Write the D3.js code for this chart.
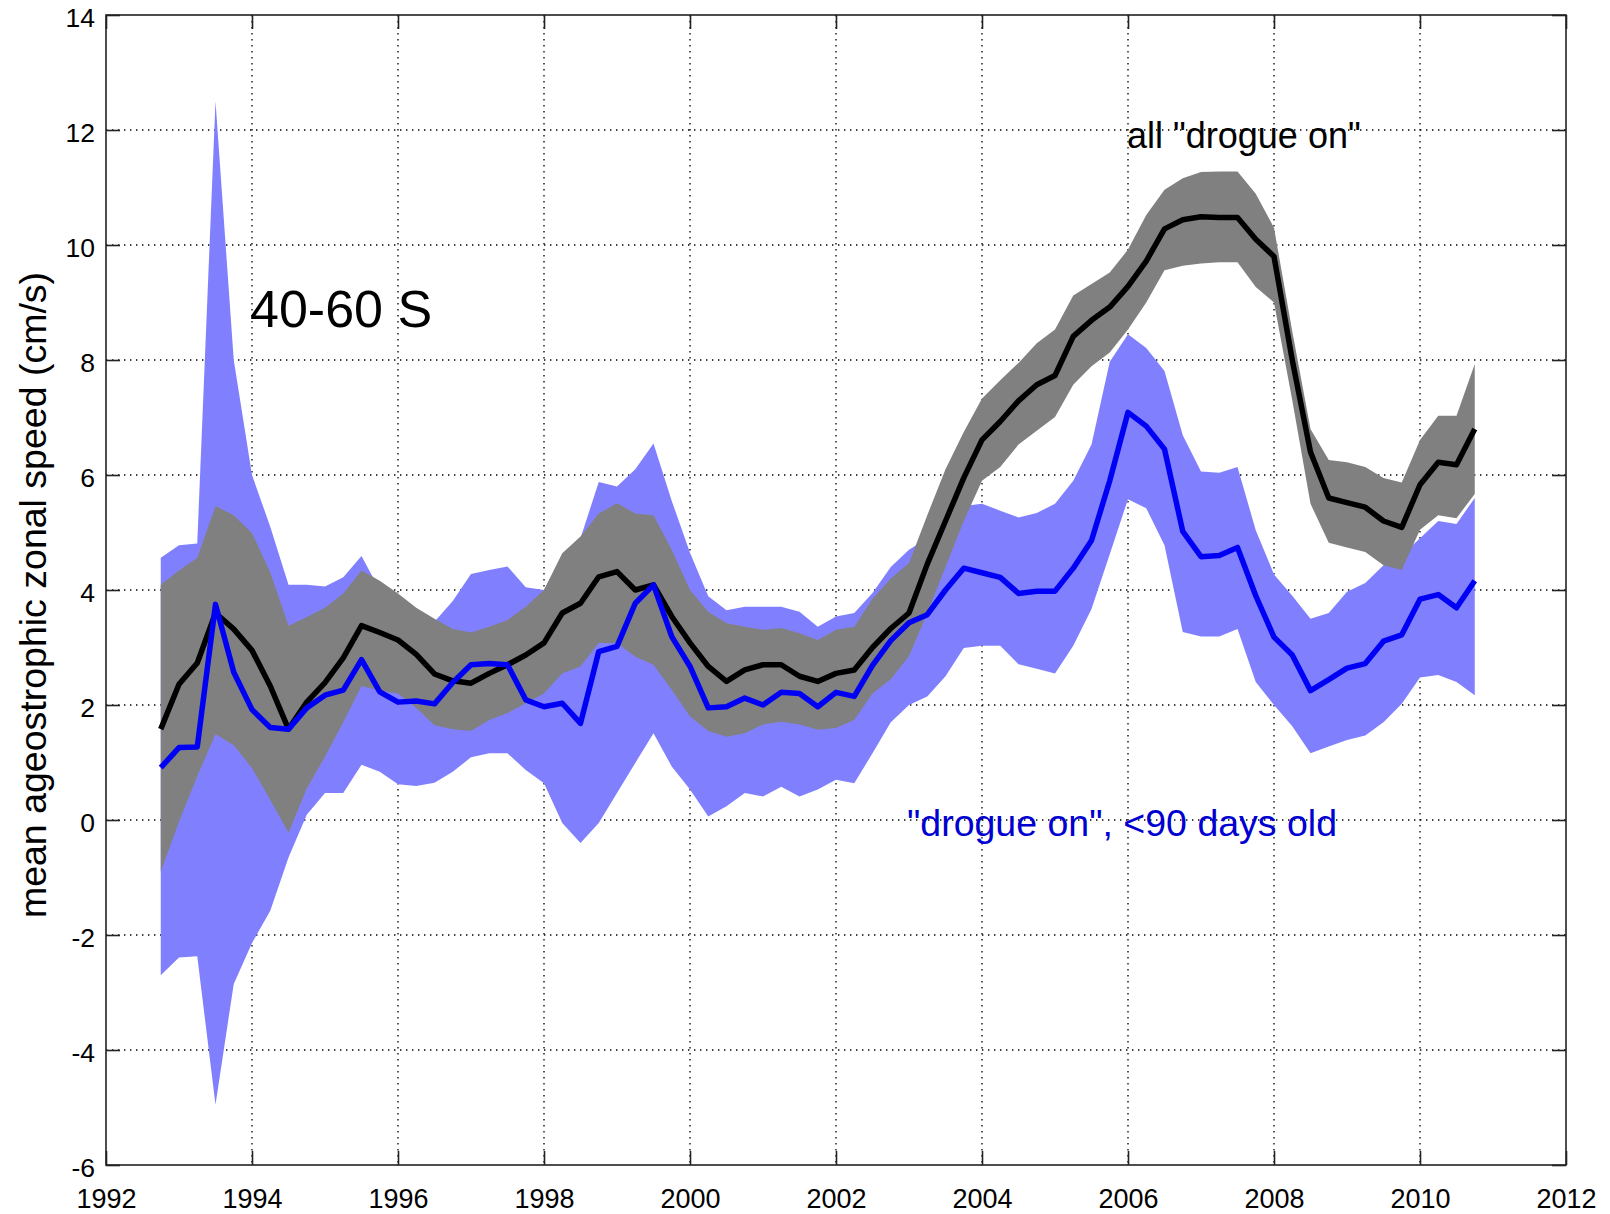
<!DOCTYPE html>
<html>
<head>
<meta charset="utf-8">
<script src="https://cdn.jsdelivr.net/npm/d3@7/dist/d3.min.js"></script>
<style>
  html, body { margin: 0; padding: 0; background: #fff; }
  svg { display: block; font-family: "Liberation Sans", Arial, Helvetica, sans-serif; }
</style>
</head>
<body>
<svg id="chart" width="1610" height="1214"></svg>
<script>
// Quarterly sample times (decimal years)
const years = [
  1992.75, 1993.00, 1993.25, 1993.50, 1993.75, 1994.00, 1994.25, 1994.50, 1994.75,
  1995.00, 1995.25, 1995.50, 1995.75, 1996.00, 1996.25, 1996.50, 1996.75,
  1997.00, 1997.25, 1997.50, 1997.75, 1998.00, 1998.25, 1998.50, 1998.75,
  1999.00, 1999.25, 1999.50, 1999.75, 2000.00, 2000.25, 2000.50, 2000.75,
  2001.00, 2001.25, 2001.50, 2001.75, 2002.00, 2002.25, 2002.50, 2002.75,
  2003.00, 2003.25, 2003.50, 2003.75, 2004.00, 2004.25, 2004.50, 2004.75,
  2005.00, 2005.25, 2005.50, 2005.75, 2006.00, 2006.25, 2006.50, 2006.75,
  2007.00, 2007.25, 2007.50, 2007.75, 2008.00, 2008.25, 2008.50, 2008.75,
  2009.00, 2009.25, 2009.50, 2009.75, 2010.00, 2010.25, 2010.50, 2010.75
];

// All "drogue on" drifters: mean speed and confidence band (cm/s)
const allMean = [
  1.58, 2.36, 2.73, 3.60, 3.32, 2.95, 2.33, 1.58, 2.05,
  2.39, 2.82, 3.38, 3.26, 3.13, 2.88, 2.54, 2.42,
  2.38, 2.55, 2.70, 2.87, 3.08, 3.60, 3.77, 4.23,
  4.32, 4.00, 4.09, 3.54, 3.08, 2.67, 2.41, 2.61,
  2.70, 2.70, 2.50, 2.41, 2.55, 2.61, 3.00, 3.33,
  3.60, 4.45, 5.20, 5.95, 6.61, 6.93, 7.29, 7.57,
  7.73, 8.41, 8.69, 8.92, 9.28, 9.72, 10.28, 10.44,
  10.49, 10.48, 10.48, 10.10, 9.80, 8.00, 6.40, 5.60,
  5.52, 5.44, 5.20, 5.09, 5.83, 6.22, 6.18, 6.80
];
const allHi = [
  4.09, 4.34, 4.56, 5.46, 5.30, 4.99, 4.31, 3.38, 3.53,
  3.69, 3.94, 4.34, 4.16, 3.94, 3.69, 3.50, 3.32,
  3.26, 3.36, 3.48, 3.71, 4.00, 4.64, 4.93, 5.33,
  5.51, 5.33, 5.30, 4.70, 4.00, 3.62, 3.42, 3.36,
  3.31, 3.34, 3.25, 3.13, 3.31, 3.36, 3.85, 4.20,
  4.47, 5.30, 6.10, 6.75, 7.33, 7.65, 7.95, 8.29,
  8.53, 9.12, 9.32, 9.52, 9.92, 10.52, 10.96, 11.16,
  11.27, 11.28, 11.28, 10.89, 10.30, 8.50, 6.80, 6.26,
  6.22, 6.14, 5.95, 5.87, 6.61, 7.03, 7.03, 7.93
];
const allLo = [
  -0.90, -0.03, 0.76, 1.49, 1.30, 0.90, 0.35, -0.22, 0.55,
  1.10, 1.70, 2.33, 2.25, 2.20, 1.95, 1.65, 1.58,
  1.55, 1.74, 1.86, 2.03, 2.20, 2.55, 2.67, 3.08,
  3.08, 2.84, 2.70, 2.26, 1.80, 1.55, 1.45, 1.51,
  1.66, 1.71, 1.66, 1.57, 1.60, 1.74, 2.20, 2.45,
  2.85, 3.60, 4.40, 5.20, 5.90, 6.14, 6.53, 6.77,
  7.01, 7.57, 7.89, 8.13, 8.53, 9.00, 9.56, 9.64,
  9.68, 9.70, 9.70, 9.27, 9.00, 7.30, 5.50, 4.82,
  4.74, 4.66, 4.43, 4.35, 5.05, 5.30, 5.25, 5.67
];

// "drogue on" drifters younger than 90 days: mean speed and band (cm/s)
const youngMean = [
  0.91, 1.26, 1.27, 3.75, 2.57, 1.92, 1.61, 1.58, 1.95,
  2.17, 2.26, 2.79, 2.23, 2.05, 2.07, 2.02, 2.39,
  2.70, 2.72, 2.70, 2.09, 1.97, 2.03, 1.68, 2.93,
  3.02, 3.77, 4.09, 3.19, 2.67, 1.95, 1.97, 2.12,
  2.00, 2.22, 2.20, 1.97, 2.22, 2.15, 2.69, 3.12,
  3.43, 3.57, 4.00, 4.38, 4.30, 4.22, 3.94, 3.98,
  3.98, 4.38, 4.86, 5.90, 7.09, 6.85, 6.45, 5.02,
  4.58, 4.60, 4.74, 3.90, 3.18, 2.87, 2.25, 2.44,
  2.64, 2.72, 3.11, 3.22, 3.84, 3.92, 3.69, 4.16
];
const youngHi = [
  4.56, 4.78, 4.81, 12.50, 8.00, 6.00, 5.10, 4.09, 4.09,
  4.06, 4.22, 4.59, 4.00, 3.80, 3.60, 3.45, 3.81,
  4.28, 4.35, 4.41, 4.05, 4.00, 4.60, 4.90, 5.88,
  5.80, 6.10, 6.55, 5.55, 4.65, 3.89, 3.65, 3.71,
  3.71, 3.71, 3.62, 3.36, 3.54, 3.60, 3.95, 4.40,
  4.70, 4.90, 5.10, 5.46, 5.50, 5.38, 5.26, 5.34,
  5.50, 5.90, 6.53, 7.97, 8.45, 8.21, 7.81, 6.69,
  6.06, 6.04, 6.14, 5.04, 4.27, 3.90, 3.50, 3.60,
  3.97, 4.12, 4.43, 4.60, 4.90, 5.20, 5.15, 5.60
];
const youngLo = [
  -2.70, -2.39, -2.37, -4.95, -2.85, -2.14, -1.58, -0.65, 0.09,
  0.47, 0.47, 0.96, 0.84, 0.62, 0.59, 0.65, 0.84,
  1.09, 1.16, 1.16, 0.87, 0.64, -0.05, -0.40, -0.05,
  0.47, 0.99, 1.51, 0.93, 0.53, 0.06, 0.24, 0.47,
  0.41, 0.58, 0.41, 0.53, 0.70, 0.64, 1.16, 1.70,
  2.00, 2.15, 2.50, 2.99, 3.03, 3.03, 2.71, 2.63,
  2.55, 3.03, 3.67, 4.62, 5.58, 5.42, 4.78, 3.27,
  3.19, 3.19, 3.32, 2.40, 2.00, 1.63, 1.16, 1.28,
  1.39, 1.47, 1.70, 2.02, 2.48, 2.52, 2.40, 2.17
];

// Axis ticks and labels
const xTicks = [1992, 1994, 1996, 1998, 2000, 2002, 2004, 2006, 2008, 2010, 2012];
const yTicks = [-6, -4, -2, 0, 2, 4, 6, 8, 10, 12, 14];
const yLabel = "mean ageostrophic zonal speed (cm/s)";
const regionLabel = "40-60 S";
const allLabel = "all \"drogue on\"";
const youngLabel = "\"drogue on\", <90 days old";

const W = 1610, H = 1214;
const plot = { left: 106, right: 1566, top: 15, bottom: 1165 };

const svg = d3.select("#chart");
svg.append("rect").attr("width", W).attr("height", H).attr("fill", "#fff");

const x = d3.scaleLinear().domain([1992, 2012]).range([plot.left, plot.right]);
const y = d3.scaleLinear().domain([-6, 14]).range([plot.bottom, plot.top]);

// Plain hyphen for negative numbers
const fmt = d => String(d);

// Dotted grid, under the data
const grid = svg.append("g").attr("class", "grid")
  .attr("stroke", "#000").attr("stroke-width", 1.3)
  .attr("stroke-dasharray", "1.4,4.6");
grid.selectAll("line.gx").data(xTicks.slice(1, -1)).join("line")
  .attr("class", "gx")
  .attr("x1", d => x(d)).attr("x2", d => x(d))
  .attr("y1", plot.top).attr("y2", plot.bottom);
grid.selectAll("line.gy").data(yTicks.slice(1, -1)).join("line")
  .attr("class", "gy")
  .attr("x1", plot.left).attr("x2", plot.right)
  .attr("y1", d => y(d)).attr("y2", d => y(d));

const idx = d3.range(years.length);

// Confidence bands
const band = (lo, hi) => d3.area()
  .x(i => x(years[i]))
  .y0(i => y(lo[i]))
  .y1(i => y(hi[i]));

svg.append("path").datum(idx)
  .attr("d", band(youngLo, youngHi))
  .attr("fill", "#8080ff");

svg.append("path").datum(idx)
  .attr("d", band(allLo, allHi))
  .attr("fill", "#808080");

// Mean lines
const line = vals => d3.line()
  .x(i => x(years[i]))
  .y(i => y(vals[i]));

svg.append("path").datum(idx)
  .attr("d", line(allMean))
  .attr("fill", "none").attr("stroke", "#000")
  .attr("stroke-width", 5.5).attr("stroke-linejoin", "round");

svg.append("path").datum(idx)
  .attr("d", line(youngMean))
  .attr("fill", "none").attr("stroke", "#0000f5")
  .attr("stroke-width", 5.5).attr("stroke-linejoin", "round");

// Axes: ticks on all four sides, pointing inward
const tickLen = 14;
const axisColor = "#222";

const gBottom = svg.append("g").attr("transform", `translate(0,${plot.bottom})`)
  .call(d3.axisBottom(x).tickValues(xTicks).tickFormat(fmt)
    .tickSizeInner(-tickLen).tickSizeOuter(0));
gBottom.selectAll("text").attr("y", 43).attr("dy", null)
  .attr("font-size", 27).attr("fill", "#000");

const gTop = svg.append("g").attr("transform", `translate(0,${plot.top})`)
  .call(d3.axisTop(x).tickValues(xTicks).tickFormat("")
    .tickSizeInner(-tickLen).tickSizeOuter(0));

const gLeft = svg.append("g").attr("transform", `translate(${plot.left},0)`)
  .call(d3.axisLeft(y).tickValues(yTicks).tickFormat(fmt)
    .tickSizeInner(-tickLen).tickSizeOuter(0));
gLeft.selectAll("text").attr("x", -11).attr("dy", "0.45em")
  .attr("font-size", 26.5).attr("fill", "#000");

const gRight = svg.append("g").attr("transform", `translate(${plot.right},0)`)
  .call(d3.axisRight(y).tickValues(yTicks).tickFormat("")
    .tickSizeInner(-tickLen).tickSizeOuter(0));

[gBottom, gTop, gLeft, gRight].forEach(g => {
  g.select(".domain").remove();
  g.selectAll(".tick line").attr("stroke", axisColor).attr("stroke-width", 1.6);
});

svg.append("rect")
  .attr("x", plot.left).attr("y", plot.top)
  .attr("width", plot.right - plot.left).attr("height", plot.bottom - plot.top)
  .attr("fill", "none").attr("stroke", axisColor).attr("stroke-width", 1.6);

// Y axis title
svg.append("text")
  .attr("transform", `translate(46,${(plot.top + plot.bottom) / 2 + 5}) rotate(-90)`)
  .attr("text-anchor", "middle")
  .attr("font-size", 37.5)
  .attr("fill", "#000")
  .text(yLabel);

// Annotations
svg.append("text")
  .attr("x", 250).attr("y", 327)
  .attr("font-size", 52).attr("fill", "#000")
  .text(regionLabel);

svg.append("text")
  .attr("x", 1127).attr("y", 148)
  .attr("font-size", 36).attr("fill", "#000")
  .text(allLabel);

svg.append("text")
  .attr("x", 907).attr("y", 836)
  .attr("font-size", 37.5).attr("fill", "#0000d0")
  .text(youngLabel);
</script>
</body>
</html>
